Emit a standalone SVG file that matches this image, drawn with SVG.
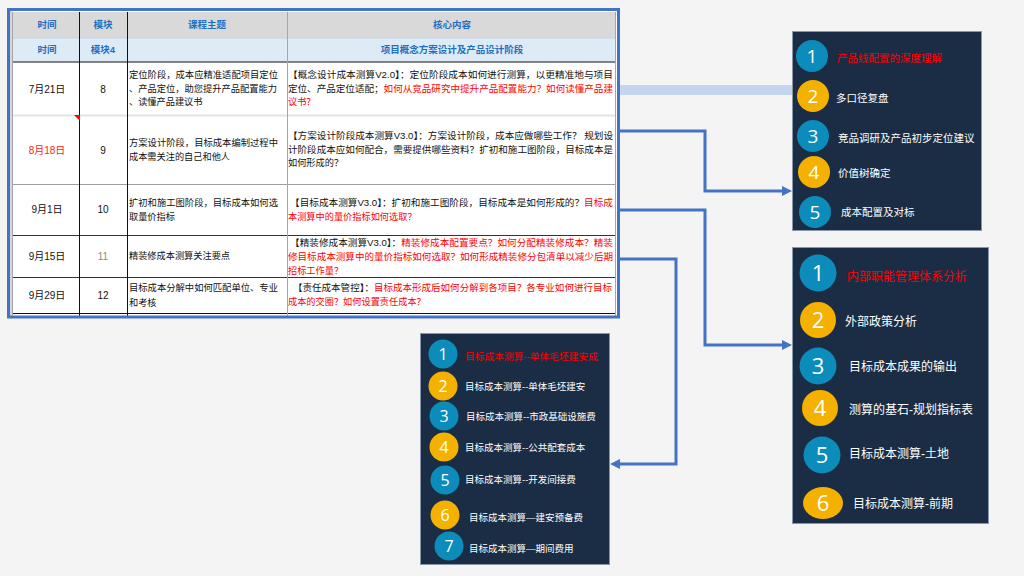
<svg xmlns="http://www.w3.org/2000/svg" width="1024" height="576" viewBox="0 0 1024 576">
<defs>
<style>
text{font-family:"Liberation Sans","Noto Sans CJK SC",sans-serif;}
.hd{font-size:9.5px;font-weight:bold;fill:#1f6fc0;text-anchor:middle;}
.c{font-size:10px;fill:#111;text-anchor:middle;}
.t{font-size:9.2px;fill:#111;}
.r{fill:#ff0000;}
.panel{fill:#1a2d44;stroke:#8796a8;stroke-width:1;}
.cb{fill:#0b8cba;}
.cy{fill:#f5b100;}
.num{fill:#fff;text-anchor:middle;font-family:"Open Sans","Liberation Sans",sans-serif;}
.lt{fill:#fff;}
.conn{fill:none;stroke:#4472c4;stroke-width:3;}
</style>
<marker id="ah" viewBox="0 0 10 10" refX="3" refY="5" markerWidth="10" markerHeight="10" markerUnits="userSpaceOnUse" orient="auto">
<path d="M0,0 L10,5 L0,10 z" fill="#4472c4"/>
</marker>
</defs>
<rect x="0" y="0" width="1024" height="576" fill="#f4f4f4"/>

<g id="table">
<rect x="9" y="11" width="608" height="305" fill="#ffffff"/>
<rect x="9" y="11" width="3" height="305" fill="#d6d6d6"/>
<rect x="12" y="12" width="604" height="26" fill="#d9d9d9"/>
<rect x="12" y="38" width="604" height="24" fill="#ddebf7"/>
<line x1="12" y1="38" x2="616" y2="38" stroke="#c8d2dc" stroke-width="1"/>
<line x1="12" y1="62" x2="616" y2="62" stroke="#111" stroke-width="1"/>
<line x1="12" y1="115.5" x2="616" y2="115.5" stroke="#e4e4e4" stroke-width="2"/>
<line x1="12" y1="184.5" x2="616" y2="184.5" stroke="#a0a0a0" stroke-width="1"/>
<line x1="12" y1="235.5" x2="616" y2="235.5" stroke="#333" stroke-width="1"/>
<line x1="12" y1="277.5" x2="616" y2="277.5" stroke="#333" stroke-width="1"/>
<line x1="12" y1="313.5" x2="616" y2="313.5" stroke="#111" stroke-width="1"/>
<line x1="12.5" y1="12" x2="12.5" y2="316" stroke="#a6a6a6" stroke-width="1"/>
<line x1="79.5" y1="12" x2="79.5" y2="316" stroke="#111" stroke-width="1"/>
<line x1="127.5" y1="12" x2="127.5" y2="316" stroke="#111" stroke-width="1"/>
<line x1="287.5" y1="12" x2="287.5" y2="316" stroke="#a6a6a6" stroke-width="1"/>
<line x1="615.5" y1="12" x2="615.5" y2="316" stroke="#a6a6a6" stroke-width="1"/>
<path d="M74,115 L80,115 L80,121 z" fill="#ff0000"/>

<text class="hd" x="47" y="28">时间</text>
<text class="hd" x="103" y="28">模块</text>
<text class="hd" x="207" y="28">课程主题</text>
<text class="hd" x="452" y="28">核心内容</text>
<text class="hd" x="47" y="53">时间</text>
<text class="hd" x="103" y="53">模块4</text>
<text class="hd" x="452" y="53">项目概念方案设计及产品设计阶段</text>

<text class="c" x="47" y="93">7月21日</text>
<text class="c" x="103" y="93">8</text>
<text class="t" x="129" y="78" textLength="149" lengthAdjust="spacingAndGlyphs">定位阶段，成本应精准适配项目定位</text>
<text class="t" x="129" y="92" textLength="148" lengthAdjust="spacingAndGlyphs">、产品定位，助您提升产品配置能力</text>
<text class="t" x="129" y="105">、读懂产品建议书</text>
<text class="t" x="288" y="78" textLength="325" lengthAdjust="spacingAndGlyphs">【概念设计成本测算V2.0】：定位阶段成本如何进行测算，以更精准地与项目</text>
<text class="t" x="288" y="92" textLength="325" lengthAdjust="spacingAndGlyphs">定位、产品定位适配；<tspan class="r">如何从竞品研究中提升产品配置能力？如何读懂产品建</tspan></text>
<text class="t r" x="288" y="105">议书？</text>

<text class="c" x="47" y="154" style="fill:#ff2020">8月18日</text>
<text class="c" x="103" y="154">9</text>
<text class="t" x="129" y="146" textLength="149" lengthAdjust="spacingAndGlyphs">方案设计阶段，目标成本编制过程中</text>
<text class="t" x="129" y="160">成本需关注的自己和他人</text>
<text class="t" x="288" y="139" textLength="325" lengthAdjust="spacingAndGlyphs">【方案设计阶段成本测算V3.0】：方案设计阶段，成本应做哪些工作？ 规划设</text>
<text class="t" x="288" y="153" textLength="325" lengthAdjust="spacingAndGlyphs">计阶段成本应如何配合，需要提供哪些资料？扩初和施工图阶段，目标成本是</text>
<text class="t" x="288" y="166">如何形成的？</text>

<text class="c" x="47" y="213">9月1日</text>
<text class="c" x="103" y="213">10</text>
<text class="t" x="129" y="206" textLength="149" lengthAdjust="spacingAndGlyphs">扩初和施工图阶段，目标成本如何选</text>
<text class="t" x="129" y="220">取量价指标</text>
<text class="t" x="290" y="206" textLength="323" lengthAdjust="spacingAndGlyphs">【目标成本测算V3.0】：扩初和施工图阶段，目标成本是如何形成的？<tspan class="r">目标成</tspan></text>
<text class="t r" x="288" y="220">本测算中的量价指标如何选取？</text>

<text class="c" x="47" y="260">9月15日</text>
<text class="c" x="103" y="260" style="fill:#8c8c78">11</text>
<text class="t" x="129" y="259">精装修成本测算关注要点</text>
<text class="t" x="290" y="246" textLength="323" lengthAdjust="spacingAndGlyphs">【精装修成本测算V3.0】：<tspan class="r">精装修成本配置要点？如何分配精装修成本？精装</tspan></text>
<text class="t r" x="288" y="260" textLength="325" lengthAdjust="spacingAndGlyphs">修目标成本测算中的量价指标如何选取？如何形成精装修分包清单以减少后期</text>
<text class="t r" x="288" y="274">招标工作量？</text>

<text class="c" x="47" y="299">9月29日</text>
<text class="c" x="103" y="299">12</text>
<text class="t" x="129" y="291" textLength="149" lengthAdjust="spacingAndGlyphs">目标成本分解中如何匹配单位、专业</text>
<text class="t" x="129" y="306">和考核</text>
<text class="t" x="293" y="291" textLength="319" lengthAdjust="spacingAndGlyphs">【责任成本管控】：<tspan class="r">目标成本形成后如何分解到各项目？各专业如何进行目标</tspan></text>
<text class="t r" x="288" y="305">成本的交圈？如何设置责任成本？</text>

<rect x="8.5" y="9.5" width="610" height="307.5" fill="none" stroke="#4472c4" stroke-width="3"/>
</g>

<g id="connectors">
<rect x="620" y="85" width="172" height="10" fill="#c6d5ee"/>
<path class="conn" d="M620,131 H705 V191 H785" marker-end="url(#ah)"/>
<path class="conn" d="M620,210 H705 V345 H785" marker-end="url(#ah)"/>
<path class="conn" d="M620,259 H676 V464 H617" marker-end="url(#ah)"/>
</g>

<g id="panel-top">
<rect class="panel" x="792.5" y="31.5" width="189" height="199"/>
<circle class="cb" cx="812" cy="56" r="16"/>
<text class="num" x="812" y="63" font-size="19">1</text>
<text x="837" y="62" font-size="10.5" class="r">产品线配置的深度理解</text>
<circle class="cy" cx="813" cy="96" r="16"/>
<text class="num" x="813" y="103" font-size="19">2</text>
<text x="836" y="102" font-size="10.5" class="lt">多口径复盘</text>
<circle class="cb" cx="813" cy="136" r="16"/>
<text class="num" x="813" y="143" font-size="19">3</text>
<text x="838" y="142" font-size="10.5" class="lt">竞品调研及产品初步定位建议</text>
<circle class="cy" cx="814" cy="172" r="16"/>
<text class="num" x="814" y="179" font-size="19">4</text>
<text x="838" y="177" font-size="10.5" class="lt">价值树确定</text>
<circle class="cb" cx="815" cy="212" r="16"/>
<text class="num" x="815" y="219" font-size="19">5</text>
<text x="841" y="216" font-size="10.5" class="lt">成本配置及对标</text>
</g>

<g id="panel-right">
<rect class="panel" x="792.5" y="247.5" width="196" height="276"/>
<circle class="cb" cx="818" cy="273" r="18.5"/>
<text class="num" x="818" y="281" font-size="22">1</text>
<text x="847" y="281" font-size="12" class="r">内部职能管理体系分析</text>
<circle class="cy" cx="818" cy="320" r="18"/>
<text class="num" x="818" y="328" font-size="22">2</text>
<text x="845" y="326" font-size="12" class="lt">外部政策分析</text>
<circle class="cb" cx="818" cy="366" r="18.5"/>
<text class="num" x="818" y="374" font-size="22">3</text>
<text x="849" y="371" font-size="12" class="lt">目标成本成果的输出</text>
<circle class="cy" cx="820" cy="408" r="18"/>
<text class="num" x="820" y="416" font-size="22">4</text>
<text x="849" y="414" font-size="12" class="lt">测算的基石-规划指标表</text>
<circle class="cb" cx="822" cy="455" r="18.5"/>
<text class="num" x="822" y="463" font-size="22">5</text>
<text x="849" y="458" font-size="12" class="lt">目标成本测算-土地</text>
<ellipse class="cy" cx="823" cy="503" rx="20" ry="16"/>
<text class="num" x="823" y="511" font-size="22">6</text>
<text x="853" y="508" font-size="12" class="lt">目标成本测算-前期</text>
</g>

<g id="panel-bottom">
<rect class="panel" x="420.5" y="333.5" width="189" height="231"/>
<circle class="cb" cx="443" cy="354" r="14.5"/>
<text class="num" x="443" y="360" font-size="16">1</text>
<text x="465" y="360" font-size="9.5" class="r" textLength="133" lengthAdjust="spacingAndGlyphs">目标成本测算--单体毛坯建安成</text>
<circle class="cy" cx="443" cy="386" r="14.5"/>
<text class="num" x="443" y="392" font-size="16">2</text>
<text x="465" y="390" font-size="9.5" class="lt">目标成本测算--单体毛坯建安</text>
<circle class="cb" cx="444" cy="416" r="14.5"/>
<text class="num" x="444" y="422" font-size="16">3</text>
<text x="466" y="420" font-size="9.5" class="lt">目标成本测算--市政基础设施费</text>
<circle class="cy" cx="444" cy="447" r="14.5"/>
<text class="num" x="444" y="453" font-size="16">4</text>
<text x="465" y="451" font-size="9.5" class="lt">目标成本测算--公共配套成本</text>
<circle class="cb" cx="445" cy="480" r="14.5"/>
<text class="num" x="445" y="486" font-size="16">5</text>
<text x="465" y="483" font-size="9.5" class="lt">目标成本测算--开发间接费</text>
<circle class="cy" cx="445" cy="515" r="14.5"/>
<text class="num" x="445" y="521" font-size="16">6</text>
<text x="469" y="521" font-size="9.5" class="lt">目标成本测算—建安预备费</text>
<circle class="cb" cx="449" cy="546" r="14.5"/>
<text class="num" x="449" y="552" font-size="16">7</text>
<text x="469" y="552" font-size="9.5" class="lt">目标成本测算—期间费用</text>
</g>
</svg>
